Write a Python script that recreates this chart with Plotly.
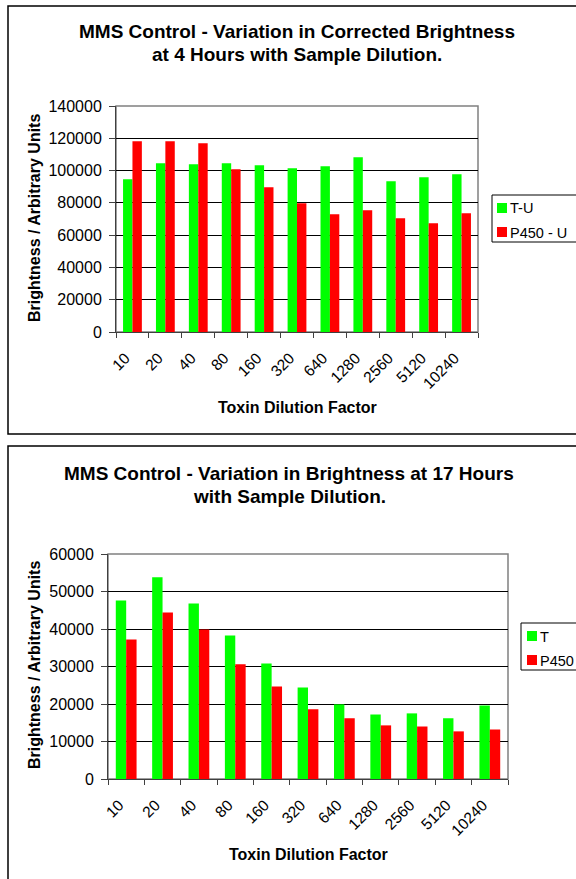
import plotly.graph_objects as go

# ---- data ----
categories = ["10", "20", "40", "80", "160", "320", "640", "1280", "2560", "5120", "10240"]

top_title_1 = "MMS Control - Variation in Corrected Brightness"
top_title_2 = "at 4 Hours with Sample Dilution."
top_names = ["T-U", "P450 - U"]
top_tu = [94600, 104500, 103900, 104500, 103300, 101400, 102600, 108200, 93400, 95800, 97700]
top_p450u = [118100, 118100, 116900, 100800, 89600, 79700, 72900, 75400, 70400, 67300, 73500]

bot_title_1 = "MMS Control - Variation in Brightness at 17 Hours"
bot_title_2 = "with Sample Dilution."
bot_names = ["T", "P450"]
bot_t = [47600, 53800, 46800, 38300, 30800, 24400, 19900, 17200, 17500, 16200, 19600]
bot_p450 = [37200, 44400, 39900, 30600, 24700, 18600, 16200, 14300, 14000, 12700, 13200]

x_title = "Toxin Dilution Factor"
y_title = "Brightness / Arbitrary Units"

# ---- layout helpers ----
W, H = 576, 879
FONT = "Arial, 'Liberation Sans', sans-serif"
GREEN, RED = "#00FF00", "#FF0000"
COLORS = [GREEN, RED]


def px(x):
    return x / W


def py(y):
    return 1 - y / H


fig = go.Figure()

for name, vals, col in zip(top_names, [top_tu, top_p450u], COLORS):
    fig.add_trace(go.Bar(x=categories, y=vals, name=name, marker_color=col,
                         marker_line_width=0, xaxis="x", yaxis="y", showlegend=False))
for name, vals, col in zip(bot_names, [bot_t, bot_p450], COLORS):
    fig.add_trace(go.Bar(x=categories, y=vals, name=name, marker_color=col,
                         marker_line_width=0, xaxis="x2", yaxis="y2", showlegend=False))

xcommon = dict(type="category", showgrid=False, showline=True, linecolor="#404040", linewidth=1,
               ticks="outside", tickson="boundaries", ticklen=5, tickcolor="#404040",
               tickangle=-45, tickfont=dict(family=FONT, size=15.5, color="black"),
               ticklabelstandoff=10, ticklabelshift=-7, zeroline=False, fixedrange=True)
ycommon = dict(showgrid=True, gridcolor="black", gridwidth=1, showline=True, linecolor="#404040",
               linewidth=1, ticks="outside", ticklen=6, tickcolor="#404040",
               tickfont=dict(family=FONT, size=16, color="black"), zeroline=False,
               ticklabelstandoff=4, fixedrange=True)

top_plot = (116, 478, 106, 332)
bot_plot = (108, 508, 554, 779)

fig.update_layout(
    width=W, height=H,
    margin=dict(l=0, r=0, t=0, b=0, autoexpand=False),
    paper_bgcolor="white", plot_bgcolor="white",
    font=dict(family=FONT, color="black"),
    barmode="group", bargap=1.5 / 3.5, bargroupgap=0,
    showlegend=False,
    xaxis=dict(domain=[px(top_plot[0]), px(top_plot[1])], anchor="y", **xcommon),
    yaxis=dict(domain=[py(top_plot[3]), py(top_plot[2])], anchor="x", range=[0, 140000],
               dtick=20000, tickformat="d", **ycommon),
    xaxis2=dict(domain=[px(bot_plot[0]), px(bot_plot[1])], anchor="y2", **xcommon),
    yaxis2=dict(domain=[py(bot_plot[3]), py(bot_plot[2])], anchor="x2", range=[0, 60000],
                dtick=10000, tickformat="d", **ycommon),
)

shapes = []
ann = []

# outer chart borders
shapes.append(dict(type="rect", xref="paper", yref="paper", x0=px(8), x1=px(620), y0=py(434), y1=py(6),
                   line=dict(color="black", width=1.5), layer="below"))
shapes.append(dict(type="rect", xref="paper", yref="paper", x0=px(8), x1=px(620), y0=py(900), y1=py(446),
                   line=dict(color="black", width=1.5), layer="below"))
# plot-area borders (grey)
for xr, yr in (("x domain", "y domain"), ("x2 domain", "y2 domain")):
    shapes.append(dict(type="rect", xref=xr, yref=yr, x0=0, x1=1, y0=0, y1=1,
                       line=dict(color="#808080", width=1.5), layer="below"))

# legends (box + colour keys + labels)
LEG_FONT = dict(family=FONT, size=14.5, color="black")


def add_legend(left, top, bottom, names, first_center, step, key_x):
    shapes.append(dict(type="rect", xref="paper", yref="paper", x0=px(left), x1=px(640),
                       y0=py(bottom), y1=py(top), line=dict(color="black", width=1),
                       fillcolor="white", layer="above"))
    for i, (nm, col) in enumerate(zip(names, COLORS)):
        cy = first_center + i * step
        shapes.append(dict(type="rect", xref="paper", yref="paper",
                           x0=px(key_x), x1=px(key_x + 10), y0=py(cy + 5), y1=py(cy - 5),
                           line=dict(width=0), fillcolor=col, layer="above"))
        ann.append(dict(text=nm, x=px(key_x + 11), y=py(cy + 0.5), xref="paper", yref="paper",
                        xanchor="left", yanchor="middle", showarrow=False, font=LEG_FONT))


add_legend(492, 195, 242, top_names, 208, 24, 497)
add_legend(521, 623, 670, bot_names, 636, 24, 527)

title_font = dict(family=FONT, size=19, color="black")
axis_font = dict(family=FONT, size=16, color="black")


def add_text(text, x, y, font, angle=0):
    ann.append(dict(text=f"<b>{text}</b>", x=px(x), y=py(y), xref="paper", yref="paper",
                    xanchor="center", yanchor="middle", showarrow=False, font=font, textangle=angle))


add_text(top_title_1, 297, 31, title_font)
add_text(top_title_2, 297, 54, title_font)
add_text(bot_title_1, 289, 473, title_font)
add_text(bot_title_2, 289, 496, title_font)
add_text(x_title, 297, 407, axis_font)
add_text(x_title, 308, 854, axis_font)
add_text(y_title, 34, 218, axis_font, -90)
add_text(y_title, 34, 665, axis_font, -90)

fig.update_layout(shapes=shapes, annotations=ann)

fig.write_html("out.html")
